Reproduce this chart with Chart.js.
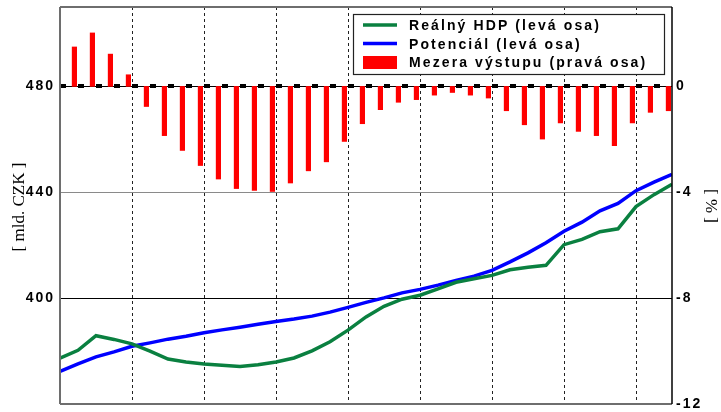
<!DOCTYPE html>
<html>
<head>
<meta charset="utf-8">
<script src="https://cdn.jsdelivr.net/npm/chart.js@4/dist/chart.umd.min.js"></script>
<style>
  html, body { margin: 0; padding: 0; background: #ffffff; }
  #wrap { width: 721px; height: 412px; }
</style>
</head>
<body>
<div id="wrap"><canvas id="chart" width="721" height="412"></canvas></div>
<script>
// Real GDP and potential output, quarterly (bn CZK, left axis)
const realGdp = [
  377.3, 380.3, 385.8, 384.4, 382.7, 380.0, 377.0, 375.9, 375.1, 374.6,
  374.2, 374.8, 375.9, 377.4, 380.1, 383.5, 387.9, 392.9, 396.9, 399.6,
  401.1, 403.5, 406.0, 407.3, 408.6, 410.7, 411.7, 412.4, 420.2, 422.2,
  425.1, 426.2, 434.6, 439.1, 443.0
];
const potential = [
  372.3, 375.2, 377.8, 379.7, 381.8, 383.1, 384.5, 385.6, 386.9, 388.0,
  389.0, 390.1, 391.2, 392.1, 393.2, 394.7, 396.5, 398.4, 400.1, 402.0,
  403.3, 404.9, 406.7, 408.3, 410.5, 413.7, 417.1, 420.9, 425.3, 428.7,
  433.0, 435.8, 440.6, 443.8, 446.8
];
// Output gap (% , right axis), quarters 1..34
const outputGap = [
  1.49, 2.02, 1.22, 0.44, -0.76, -1.86, -2.42, -2.99, -3.50, -3.86,
  -3.93, -3.97, -3.65, -3.19, -2.85, -2.08, -1.41, -0.88, -0.60, -0.50,
  -0.33, -0.23, -0.33, -0.44, -0.92, -1.45, -1.99, -1.38, -1.70, -1.86,
  -2.24, -1.38, -0.98, -0.92
];
const leftTicks = [400, 440, 480];
const rightTicks = [0, -4, -8, -12];
const yearMarks = [4, 8, 12, 16, 20, 24, 28, 32];
const seriesNames = ['Reálný HDP (levá osa)', 'Potenciál (levá osa)', 'Mezera výstupu (pravá osa)'];
const leftTitle = '[ mld. CZK ]';
const rightTitle = '[ % ]';

const GREEN = '#0a8040';
const BLUE = '#0000ff';
const RED = '#ff0000';
const LABEL_FONT = 'bold 14px "Liberation Sans", Arial, sans-serif';
const BAR_SHIFT = -0.2;

const toLine = arr => arr.map((v, i) => ({ x: i, y: v }));
const gapBars = outputGap.map((v, i) => ({ x: i + 1 + BAR_SHIFT, y: v }));

// wide-tracked tick labels
const trackingPlugin = {
  id: 'tracking',
  beforeDraw(chart) { chart.ctx.letterSpacing = '2px'; }
};

// thick dashed zero line of the gap axis
const zeroLinePlugin = {
  id: 'zeroLine',
  beforeDatasetsDraw(chart) {
    const { ctx, chartArea } = chart;
    const y = Math.round(chart.scales.y2.getPixelForValue(0));
    ctx.save();
    ctx.strokeStyle = '#000';
    ctx.lineWidth = 4;
    ctx.setLineDash([6, 12]);
    ctx.beginPath();
    ctx.moveTo(chartArea.left, y);
    ctx.lineTo(chartArea.right, y);
    ctx.stroke();
    ctx.restore();
  }
};

// plot frame, axis titles and the boxed legend
const framePlugin = {
  id: 'frame',
  afterDraw(chart) {
    const { ctx, chartArea: a } = chart;
    ctx.save();
    ctx.letterSpacing = '0px';
    ctx.setLineDash([]);
    ctx.strokeStyle = '#6e6e6e';
    ctx.lineWidth = 2;
    ctx.beginPath();
    ctx.moveTo(a.left, a.top); ctx.lineTo(a.right, a.top);
    ctx.moveTo(a.left, a.top); ctx.lineTo(a.left, a.bottom);
    ctx.moveTo(a.left, a.bottom); ctx.lineTo(a.right, a.bottom);
    ctx.stroke();
    ctx.strokeStyle = '#000';
    ctx.lineWidth = 1.5;
    ctx.beginPath();
    ctx.moveTo(a.right, a.top); ctx.lineTo(a.right, a.bottom);
    ctx.stroke();

    // axis titles
    ctx.fillStyle = '#000';
    ctx.font = '17px "Liberation Serif", "Times New Roman", serif';
    ctx.textAlign = 'center';
    ctx.textBaseline = 'middle';
    ctx.save();
    ctx.translate(20, 207);
    ctx.rotate(-Math.PI / 2);
    ctx.fillText(leftTitle, 0, 0);
    ctx.restore();
    ctx.save();
    ctx.translate(710, 206);
    ctx.rotate(Math.PI / 2);
    ctx.fillText(rightTitle, 0, 0);
    ctx.restore();

    // legend
    const bx = 353.5, by = 14.5, bw = 311, bh = 60;
    ctx.fillStyle = '#fff';
    ctx.fillRect(bx, by, bw, bh);
    ctx.strokeStyle = '#222';
    ctx.lineWidth = 1.2;
    ctx.strokeRect(bx, by, bw, bh);
    const ds = chart.data.datasets;
    const rows = [25, 43.5, 62];
    ctx.lineWidth = 3.5;
    ctx.strokeStyle = ds[0].borderColor;
    ctx.beginPath(); ctx.moveTo(363, rows[0]); ctx.lineTo(397, rows[0]); ctx.stroke();
    ctx.strokeStyle = ds[1].borderColor;
    ctx.beginPath(); ctx.moveTo(363, rows[1]); ctx.lineTo(397, rows[1]); ctx.stroke();
    ctx.fillStyle = ds[2].backgroundColor;
    ctx.fillRect(363, 56, 34, 13);
    ctx.fillStyle = '#000';
    ctx.font = LABEL_FONT;
    ctx.letterSpacing = '2.1px';
    ctx.textAlign = 'left';
    ctx.textBaseline = 'alphabetic';
    ctx.fillText(ds[0].label, 409, 30);
    ctx.fillText(ds[1].label, 409, 48.5);
    ctx.fillText(ds[2].label, 409, 67);
    ctx.restore();
  }
};

const noEdgePadding = s => { s.paddingTop = 0; s.paddingBottom = 0; s.paddingLeft = 0; s.paddingRight = 0; };

new Chart(document.getElementById('chart'), {
  type: 'line',
  data: {
    datasets: [
      {
        label: seriesNames[0],
        data: toLine(realGdp),
        yAxisID: 'y',
        borderColor: GREEN,
        borderWidth: 3.5,
        pointRadius: 0,
        tension: 0,
        order: 0
      },
      {
        label: seriesNames[1],
        data: toLine(potential),
        yAxisID: 'y',
        borderColor: BLUE,
        borderWidth: 3.5,
        pointRadius: 0,
        tension: 0,
        order: 1
      },
      {
        type: 'bar',
        label: seriesNames[2],
        data: gapBars,
        yAxisID: 'y2',
        backgroundColor: RED,
        borderWidth: 0,
        barThickness: 4.5,
        order: 2
      }
    ]
  },
  options: {
    responsive: false,
    animation: false,
    devicePixelRatio: 1,
    layout: { padding: { top: 7, bottom: 8, left: 0, right: 0 } },
    plugins: { legend: { display: false }, tooltip: { enabled: false } },
    scales: {
      x: {
        type: 'linear',
        min: 0,
        max: 34,
        offset: false,
        ticks: { display: false },
        grid: { color: '#222', lineWidth: 1, drawTicks: false, offset: false },
        border: { display: false, dash: [3, 3] },
        afterBuildTicks: s => { s.ticks = yearMarks.map(v => ({ value: v })); },
        afterFit: s => { s.height = 0; noEdgePadding(s); }
      },
      y: {
        position: 'left',
        min: 360,
        max: 510,
        afterBuildTicks: s => { s.ticks = [360, ...leftTicks].map(v => ({ value: v })); },
        ticks: {
          callback: v => (leftTicks.includes(v) ? String(v) : ''),
          font: { family: '"Liberation Sans", Arial, sans-serif', size: 14, weight: 'bold' },
          color: '#000',
          padding: 5
        },
        grid: {
          drawTicks: false,
          lineWidth: 1,
          color: c => (c.tick.value === 440 ? '#8a8a8a' : (c.tick.value === 360 ? 'rgba(0,0,0,0)' : '#000'))
        },
        border: { display: false },
        afterFit: s => { s.width = 60; noEdgePadding(s); }
      },
      y2: {
        position: 'right',
        min: -12,
        max: 3,
        afterBuildTicks: s => { s.ticks = rightTicks.map(v => ({ value: v })); },
        ticks: {
          font: { family: '"Liberation Sans", Arial, sans-serif', size: 14, weight: 'bold' },
          color: '#000',
          padding: 4
        },
        grid: { display: false, drawTicks: false },
        border: { display: false },
        afterFit: s => { s.width = 49; noEdgePadding(s); }
      }
    }
  },
  plugins: [trackingPlugin, zeroLinePlugin, framePlugin]
});
</script>
</body>
</html>
